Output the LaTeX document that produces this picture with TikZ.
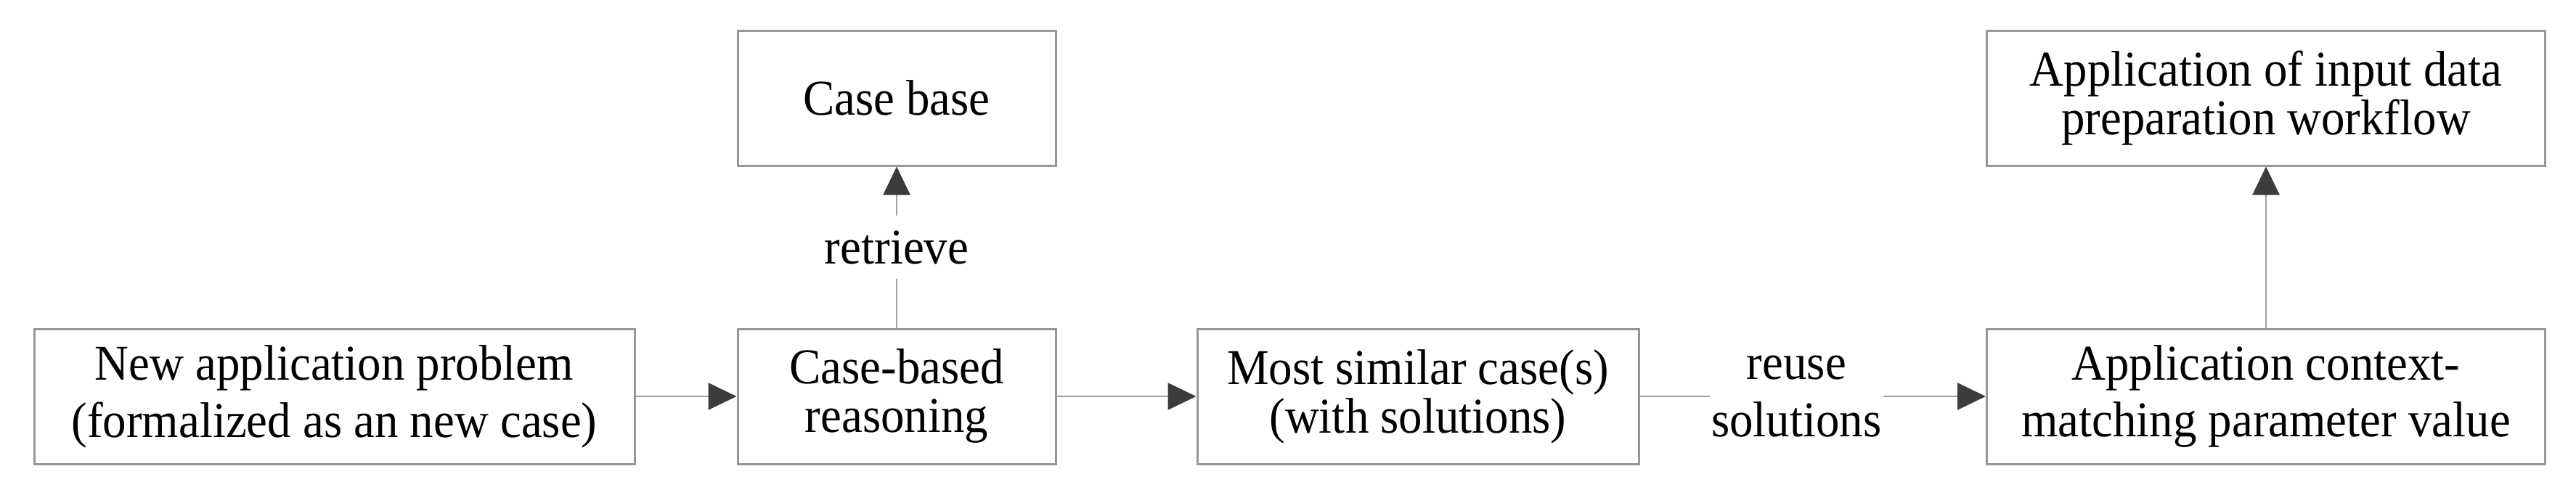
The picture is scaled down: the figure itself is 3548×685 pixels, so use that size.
\documentclass[tikz,border=0pt]{standalone}
\usepackage{fontspec}
\setmainfont{Liberation Serif}[FakeStretch=0.94]
\usetikzlibrary{arrows.meta}
\definecolor{edgegray}{RGB}{150,150,150}
\definecolor{linegray}{RGB}{160,160,160}
\definecolor{headgray}{RGB}{60,60,60}
\begin{document}
\begin{tikzpicture}[x=0.5pt,y=-0.5pt,
  box/.style={draw=edgegray, line width=1.5pt, minimum height=93pt, inner sep=0pt, align=center, fill=white},
  wide/.style={font=\fontsize{34.5pt}{39.5pt}\selectfont},
  tight/.style={font=\fontsize{34.5pt}{33.5pt}\selectfont},
  conn/.style={draw=linegray, line width=1.3pt, -{Triangle[length=19.5pt,width=18.5pt,color=headgray]}},
  lbl/.style={fill=white, font=\fontsize{34.5pt}{39.5pt}\selectfont, align=center}
]
\useasboundingbox (0,0) rectangle (3548,685);
\node[box, wide, minimum width=413.5pt] (b1) at (460.5,546) {New application problem\\(formalized as an new case)};
\node[box, tight, minimum width=219pt] (b2) at (1235,546) {Case-based\\reasoning};
\node[box, tight, minimum width=304pt] (b3) at (1953,546) {Most similar case(s)\\(with solutions)};
\node[box, wide, minimum width=384.5pt] (b4) at (3121,546) {Application context-\\matching parameter value};
\node[box, wide, minimum width=219pt] (cb) at (1235,135) {Case base};
\node[box, tight, minimum width=384.5pt] (tr) at (3121,135) {Application of input data\\preparation workflow};
\draw[conn] (b1) -- (b2);
\draw[conn] (b2) -- (b3);
\draw[conn] (b3) -- node[lbl, pos=0.453, inner xsep=1pt, inner ysep=0pt] (reuse) {reuse\\solutions} (b4);
\draw[conn] (b2) -- node[lbl, inner xsep=2pt, inner ysep=10pt] (retr) {retrieve} (cb);
\draw[conn] (b4) -- (tr);
\end{tikzpicture}
\end{document}
